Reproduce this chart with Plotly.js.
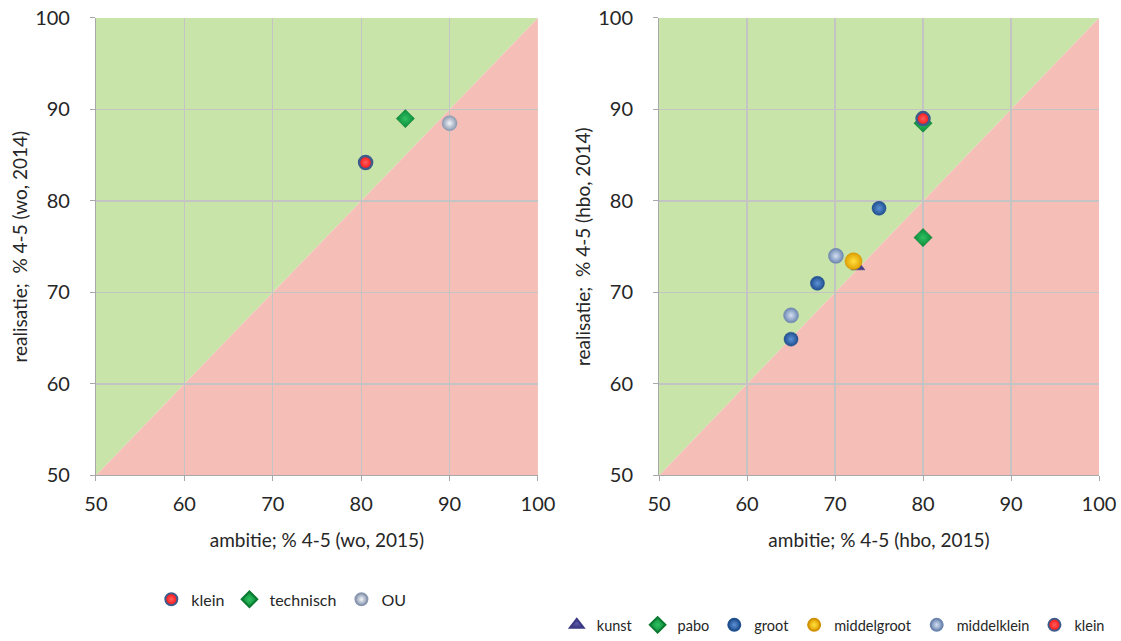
<!DOCTYPE html>
<html>
<head>
<meta charset="utf-8">
<script src="https://cdn.plot.ly/plotly-3.0.1.min.js"></script>
<style>html,body{margin:0;padding:0;background:#fff;}#chart{width:1121px;height:641px;}</style>
</head>
<body>
<div id="chart"></div>
<script>
// Left chart (wo)
var woSeries = ["klein", "technisch", "OU"];
var woAmbitie = [[80.5], [85], [90]];
var woRealisatie = [[84.2], [89.0], [88.5]];

// Right chart (hbo)
var hboSeries = ["kunst", "pabo", "groot", "middelgroot", "middelklein", "klein"];
var hboAmbitie = [[72.6], [80, 80], [65, 68, 75], [72.1], [65, 70.1], [80]];
var hboRealisatie = [[72.8], [88.5, 76.0], [64.9, 71.0, 79.2], [73.4], [67.5, 74.0], [89.0]];

var axisRange = [50, 100];
var tickVals = [50, 60, 70, 80, 90, 100];

var styles = {
  "klein": {symbol: "circle", size: 13, color: "#ff1010", grad: "#ff6060", line: "#3d5c8c", lw: 2.5},
  "technisch": {symbol: "diamond", size: 14, color: "#0a8a3a", grad: "#30c060", line: "#0a7a30", lw: 0.5},
  "OU": {symbol: "circle", size: 15, color: "#8a98b0", grad: "#f4f6fa", line: "#8a98b0", lw: 0.5},
  "kunst": {symbol: "triangle-up", size: 12, color: "#3b3a82", grad: "#5a58a8", line: "#3b3a82", lw: 0.5},
  "pabo": {symbol: "diamond", size: 14, color: "#0a8a3a", grad: "#30c060", line: "#0a7a30", lw: 0.5},
  "groot": {symbol: "circle", size: 14, color: "#1f4f8f", grad: "#5d92d6", line: "#1f4f8f", lw: 0.5},
  "middelgroot": {symbol: "circle", size: 17, color: "#e0a000", grad: "#ffe040", line: "#d09000", lw: 0.5},
  "middelklein": {symbol: "circle", size: 15, color: "#6c86b0", grad: "#d4e0f2", line: "#6c86b0", lw: 0.5}
};

var FONT = "Lato, 'Open Sans', sans-serif";
var traces = [];
function addTrace(name, xs, ys, xa, ya, leg) {
  var s = styles[name];
  traces.push({
    type: "scatter", mode: "markers", name: name, x: xs, y: ys,
    xaxis: xa, yaxis: ya, legend: leg, hoverinfo: "x+y+name",
    marker: {symbol: s.symbol, size: s.size, color: s.color,
      gradient: {type: "radial", color: s.grad},
      line: {color: s.line, width: s.lw}}
  });
}
woSeries.forEach(function (n, i) { addTrace(n, woAmbitie[i], woRealisatie[i], "x", "y", "legend"); });
hboSeries.forEach(function (n, i) { addTrace(n, hboAmbitie[i], hboRealisatie[i], "x2", "y2", "legend2"); });

var lo = axisRange[0], hi = axisRange[1];
function bgShapes(xr, yr) {
  return [
    {type: "path", xref: xr, yref: yr, layer: "below", line: {width: 0}, fillcolor: "#c8e4a8",
      path: "M" + lo + "," + lo + " L" + hi + "," + hi + " L" + lo + "," + hi + " Z"},
    {type: "path", xref: xr, yref: yr, layer: "below", line: {width: 0}, fillcolor: "#f5bfb8",
      path: "M" + lo + "," + lo + " L" + hi + "," + lo + " L" + hi + "," + hi + " Z"}
  ];
}

function xAxis(domain, title, anchor) {
  return {domain: domain, range: axisRange, tickvals: tickVals, anchor: anchor,
    showgrid: true, gridcolor: "#c4c4c4", gridwidth: 1.3, zeroline: false,
    showline: true, linecolor: "#a8a8a8", linewidth: 1,
    ticks: "outside", ticklen: 5, tickcolor: "#a8a8a8", ticklabelstandoff: 6,
    tickfont: {family: FONT, size: 20, color: "#262626"},
    title: {text: title, font: {family: FONT, size: 19, color: "#262626"}, standoff: 19}};
}
function yAxis(title, anchor) {
  return {domain: [0.2559, 0.9719], range: axisRange, tickvals: tickVals, anchor: anchor,
    showgrid: true, gridcolor: "#c4c4c4", gridwidth: 1.3, zeroline: false,
    showline: true, linecolor: "#a8a8a8", linewidth: 1,
    ticks: "outside", ticklen: 5, tickcolor: "#a8a8a8", ticklabelstandoff: 16,
    tickfont: {family: FONT, size: 20, color: "#262626"},
    title: {text: title, font: {family: FONT, size: 19, color: "#262626"}, standoff: 2}};
}

var layout = {
  width: 1121, height: 641,
  margin: {l: 0, r: 0, t: 0, b: 0},
  paper_bgcolor: "#ffffff", plot_bgcolor: "rgba(0,0,0,0)",
  showlegend: true,
  xaxis: xAxis([0.0856, 0.4799], "ambitie; % 4-5 (wo, 2015)", "y"),
  yaxis: yAxis("realisatie;  % 4-5 (wo, 2014)", "x"),
  xaxis2: xAxis([0.5879, 0.9804], "ambitie; % 4-5 (hbo, 2015)", "y2"),
  yaxis2: yAxis("realisatie;  % 4-5 (hbo, 2014)", "x2"),
  legend: {orientation: "h", x: 0.135, y: 0.062, xanchor: "left", yanchor: "middle", itemsizing: "constant",
    font: {family: FONT, size: 16, color: "#262626"}, itemwidth: 30, tracegroupgap: 0, bgcolor: "rgba(0,0,0,0)"},
  legend2: {orientation: "h", x: 0.99, y: 0.022, xanchor: "right", yanchor: "middle", itemsizing: "constant",
    font: {family: FONT, size: 14.5, color: "#262626"}, itemwidth: 30, tracegroupgap: 0, bgcolor: "rgba(0,0,0,0)"},
  shapes: bgShapes("x", "y").concat(bgShapes("x2", "y2"))
};

Plotly.newPlot("chart", traces, layout, {displayModeBar: false, staticPlot: true});
</script>
</body>
</html>
